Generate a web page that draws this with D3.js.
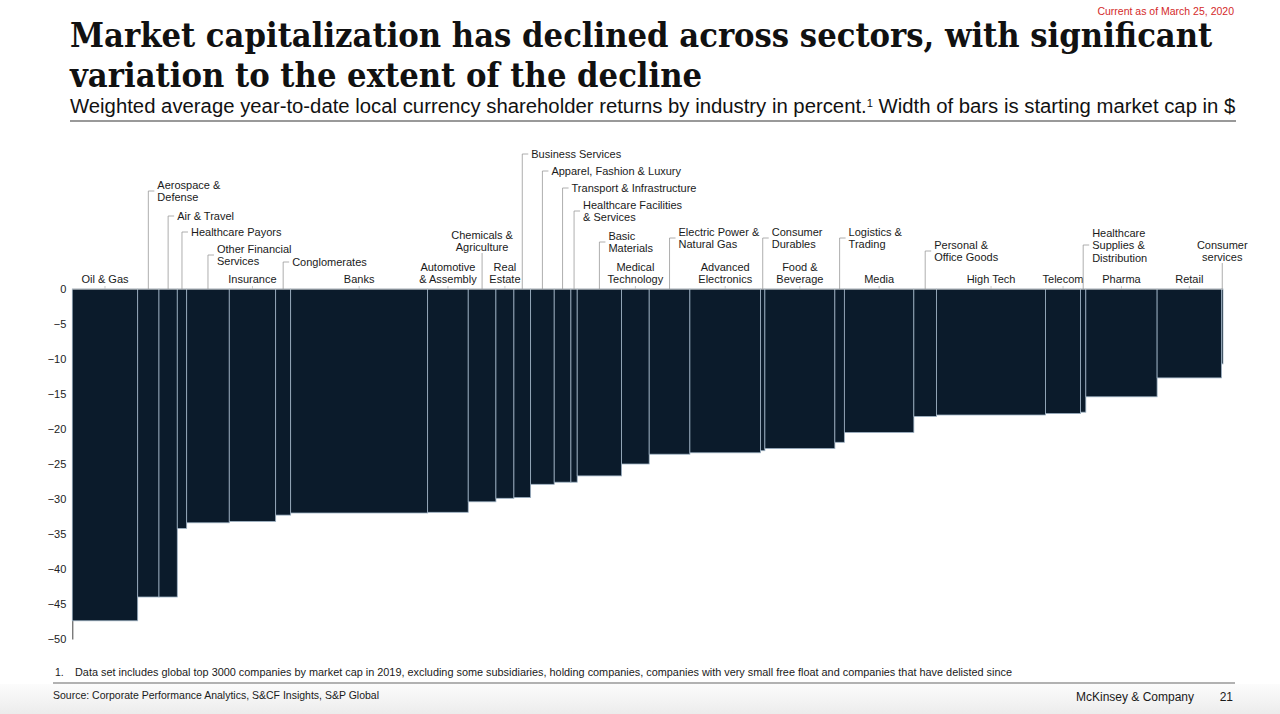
<!DOCTYPE html>
<html>
<head>
<meta charset="utf-8">
<script src="https://cdn.jsdelivr.net/npm/d3@7"></script>
<style>
  body { margin: 0; background: #fff; }
  svg { display: block; }
</style>
</head>
<body>
<div id="chart"></div>
<script>
// Industries in chart order; "\n" marks where the label wraps
const categories = [
  "Oil & Gas", "Aerospace &\nDefense", "Air & Travel", "Healthcare Payors",
  "Other Financial\nServices", "Insurance", "Conglomerates", "Banks",
  "Automotive\n& Assembly", "Chemicals &\nAgriculture", "Real\nEstate",
  "Business Services", "Apparel, Fashion & Luxury", "Transport & Infrastructure",
  "Healthcare Facilities\n& Services", "Basic\nMaterials", "Medical\nTechnology",
  "Electric Power &\nNatural Gas", "Advanced\nElectronics", "Consumer\nDurables",
  "Food &\nBeverage", "Logistics &\nTrading", "Media", "Personal &\nOffice Goods",
  "High Tech", "Telecom", "Healthcare\nSupplies &\nDistribution", "Pharma",
  "Retail", "Consumer\nservices"
];

// Weighted average YTD shareholder returns, %
const returns = [
  -47.4, -44.0, -44.0, -34.2, -33.4, -33.2, -32.3, -32.0, -31.9, -30.4,
  -29.9, -29.8, -27.9, -27.6, -27.6, -26.7, -25.0, -23.6, -23.4, -23.1,
  -22.8, -21.9, -20.5, -18.2, -18.0, -17.8, -17.6, -15.4, -12.7, -10.7
];

// Starting market cap (relative units) = bar width
const marketCap = [
  65.4, 21.3, 18.3, 9.4, 42.6, 46.4, 15.0, 137.0, 40.6, 27.7,
  18.0, 16.7, 23.6, 16.7, 6.3, 44.4, 27.6, 40.7, 70.7, 4.3,
  70.0, 9.5, 69.5, 22.7, 109.0, 35.0, 5.3, 71.3, 64.4, 1.5
];

const yTicks = [0, -5, -10, -15, -20, -25, -30, -35, -40, -45, -50];

// label placement: "c" = centred above bar, "l" = leader line to the right,
// "v" = centred with vertical leader; lift = px above the zero line
const labelLayout = [
  {m: "c"}, {m: "l", lift: 98}, {m: "l", lift: 73}, {m: "l", lift: 57},
  {m: "l", lift: 34}, {m: "c"}, {m: "l", lift: 27}, {m: "c"},
  {m: "c"}, {m: "v", lift: 36}, {m: "c"},
  {m: "l", lift: 135}, {m: "l", lift: 118}, {m: "l", lift: 101},
  {m: "l", lift: 78}, {m: "l", lift: 47}, {m: "c"},
  {m: "l", lift: 51}, {m: "c"}, {m: "l", lift: 51},
  {m: "c"}, {m: "l", lift: 51}, {m: "c"}, {m: "l", lift: 38},
  {m: "c"}, {m: "c"}, {m: "l", lift: 44}, {m: "c"},
  {m: "c"}, {m: "v", lift: 26}
];

const W = 1280, H = 714;
const sans = "'Liberation Sans', Arial, sans-serif";

const svg = d3.select("#chart").append("svg")
  .attr("width", W).attr("height", H);

// footer background band
const grad = svg.append("defs").append("linearGradient")
  .attr("id", "foot").attr("x1", 0).attr("y1", 0).attr("x2", 0).attr("y2", 1);
grad.append("stop").attr("offset", "0%").attr("stop-color", "#fcfcfc");
grad.append("stop").attr("offset", "100%").attr("stop-color", "#ececec");
svg.append("rect").attr("x", 0).attr("y", 684).attr("width", W).attr("height", 30)
  .attr("fill", "url(#foot)");

// ---- header ----
svg.append("text")
  .attr("x", 1234).attr("y", 15)
  .attr("text-anchor", "end")
  .style("font-family", sans).style("font-size", "10.5px")
  .attr("fill", "#d42a2a")
  .text("Current as of March 25, 2020");

const titleFont = "'DejaVu Serif Condensed', 'DejaVu Serif', Georgia, serif";
const title1 = svg.append("text")
  .attr("x", 70).attr("y", 47)
  .style("font-family", titleFont).style("font-stretch", "condensed")
  .style("font-weight", "bold").style("font-size", "33px")
  .attr("fill", "#111")
  .text("Market capitalization has declined across sectors, with significant");
// fit the first line to its width in the slide, reuse the size for line 2
const tSize = 33 * 1143 / title1.node().getComputedTextLength();
title1.style("font-size", tSize + "px");
svg.append("text")
  .attr("x", 70).attr("y", 87)
  .style("font-family", titleFont).style("font-stretch", "condensed")
  .style("font-weight", "bold").style("font-size", tSize + "px")
  .attr("fill", "#111")
  .text("variation to the extent of the decline");

const sub = svg.append("text")
  .attr("x", 70).attr("y", 113)
  .style("font-family", sans).style("font-size", "20px")
  .attr("fill", "#111");
sub.append("tspan").text("Weighted average year-to-date local currency shareholder returns by industry in percent.");
sub.append("tspan").attr("dy", -6).style("font-size", "11px").text("1");
sub.append("tspan").attr("dy", 6).text(" Width of bars is starting market cap in $");
// fit to the rule width
const subW = sub.node().getComputedTextLength();
const subScale = 1166 / subW;
sub.style("font-size", (20 * subScale) + "px");
sub.selectAll("tspan").filter((d, i) => i === 1).style("font-size", (11 * subScale) + "px");

svg.append("line")
  .attr("x1", 70).attr("x2", 1236).attr("y1", 121).attr("y2", 121)
  .attr("stroke", "#777").attr("stroke-width", 1.5);

// ---- scales ----
const starts = [];
let acc = 0;
marketCap.forEach(v => { starts.push(acc); acc += v; });

const x = d3.scaleLinear().domain([0, acc]).range([72.3, 1223]);
const y = d3.scaleLinear().domain([-50, 0]).range([639, 289]);

// y axis
const yAxis = svg.append("g")
  .attr("transform", `translate(${x(0)},0)`)
  .call(d3.axisLeft(y).tickValues(yTicks).tickSize(0).tickPadding(6));
yAxis.select(".domain").attr("stroke", "#444").attr("stroke-width", 1);
yAxis.selectAll("text")
  .style("font-family", sans).style("font-size", "11px").attr("fill", "#222");

// bars
svg.append("g").selectAll("rect")
  .data(returns)
  .join("rect")
  .attr("x", (d, i) => x(starts[i]))
  .attr("width", (d, i) => Math.max(0.8, x(starts[i] + marketCap[i]) - x(starts[i])))
  .attr("y", y(0))
  .attr("height", d => y(d) - y(0))
  .attr("fill", "#0b1b2b")
  .attr("stroke", "#9fb2c4")
  .attr("stroke-width", 0.8);

// zero line
svg.append("line")
  .attr("x1", x(0)).attr("x2", x(acc))
  .attr("y1", y(0)).attr("y2", y(0))
  .attr("stroke", "#c8c8c8").attr("stroke-width", 1);

// ---- labels ----
const lbl = svg.append("g")
  .style("font-family", sans).style("font-size", "11px").attr("fill", "#1a1a1a");
const lineH = 12.5;
const zero = y(0);

categories.forEach((name, i) => {
  const lines = name.split("\n");
  const cx = x(starts[i] + marketCap[i] / 2);
  const lay = labelLayout[i];
  if (lay.m === "c") {
    const lastBase = zero - 6;
    const t = lbl.append("text").attr("text-anchor", "middle");
    lines.forEach((ln, k) => {
      t.append("tspan").attr("x", cx)
        .attr("y", lastBase - (lines.length - 1 - k) * lineH).text(ln);
    });
    svg.append("line").attr("x1", cx).attr("x2", cx)
      .attr("y1", zero - 3).attr("y2", zero)
      .attr("stroke", "#bbb").attr("stroke-width", 0.8);
  } else if (lay.m === "v") {
    const top = zero - lay.lift;
    const lastBase = top - 2;
    const t = lbl.append("text").attr("text-anchor", "middle");
    lines.forEach((ln, k) => {
      t.append("tspan").attr("x", cx)
        .attr("y", lastBase - (lines.length - 1 - k) * lineH).text(ln);
    });
    svg.append("line").attr("x1", cx).attr("x2", cx)
      .attr("y1", top).attr("y2", zero)
      .attr("stroke", "#999").attr("stroke-width", 0.8);
  } else {
    const ly = zero - lay.lift;
    svg.append("path")
      .attr("d", `M${cx},${zero}V${ly}H${cx + 6}`)
      .attr("fill", "none").attr("stroke", "#999").attr("stroke-width", 0.8);
    const firstBase = ly + 4 - (lines.length - 1) * lineH / 2;
    const t = lbl.append("text");
    lines.forEach((ln, k) => {
      t.append("tspan").attr("x", cx + 9).attr("y", firstBase + k * lineH).text(ln);
    });
  }
});

// ---- footer ----
const foot = svg.append("g").style("font-family", sans).attr("fill", "#1a1a1a");
foot.append("text").attr("x", 55).attr("y", 676).style("font-size", "10.5px").text("1.");
const fn = foot.append("text").attr("x", 75).attr("y", 676).style("font-size", "10.5px")
  .text("Data set includes global top 3000 companies by market cap in 2019, excluding some subsidiaries, holding companies, companies with very small free float and companies that have delisted since");
fn.style("font-size", (10.5 * 939 / fn.node().getComputedTextLength()) + "px");

svg.append("line")
  .attr("x1", 53).attr("x2", 1235).attr("y1", 683).attr("y2", 683)
  .attr("stroke", "#999").attr("stroke-width", 1.5);

foot.append("text").attr("x", 53).attr("y", 699).style("font-size", "10.5px")
  .text("Source: Corporate Performance Analytics, S&CF Insights, S&P Global");
foot.append("text").attr("x", 1076).attr("y", 701).style("font-size", "12px")
  .text("McKinsey & Company");
foot.append("text").attr("x", 1233).attr("y", 701).attr("text-anchor", "end")
  .style("font-size", "12px").text("21");
</script>
</body>
</html>
